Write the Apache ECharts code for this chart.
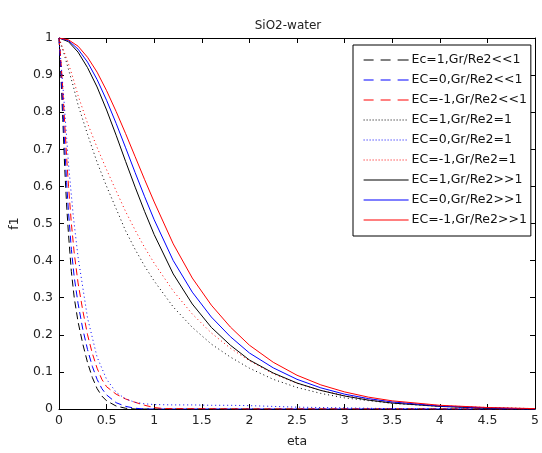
<!DOCTYPE html>
<html>
<head>
<meta charset="utf-8">
<script src="https://cdn.jsdelivr.net/npm/echarts@6/dist/echarts.min.js"></script>
<style>html,body{margin:0;padding:0;background:#fff}#c{width:542px;height:453px}</style>
</head>
<body>
<div id="c"></div>
<script>
var seriesNames = ['Ec=1,Gr/Re2<<1','EC=0,Gr/Re2<<1','EC=-1,Gr/Re2<<1','EC=1,Gr/Re2=1','EC=0,Gr/Re2=1','EC=-1,Gr/Re2=1','EC=1,Gr/Re2>>1','EC=0,Gr/Re2>>1','EC=-1,Gr/Re2>>1'];
var xTicks = [0,0.5,1,1.5,2,2.5,3,3.5,4,4.5,5];
var yTicks = [0,0.1,0.2,0.3,0.4,0.5,0.6,0.7,0.8,0.9,1];

// dashed (Gr/Re2<<1)
var etaDashed   = [0,0.02,0.04,0.06,0.08,0.1,0.13,0.16,0.2,0.25,0.3,0.35,0.4,0.45,0.5,0.6,0.7,0.8,0.9,1.0,1.1,2,3,4,5];
var blackDashed = [1,0.9,0.78,0.65,0.55,0.47,0.37,0.3,0.235,0.175,0.125,0.085,0.055,0.035,0.022,0.008,0.002,0,0,0,0,0,0,0,0];
var blueDashed  = [1,0.92,0.82,0.71,0.61,0.53,0.43,0.355,0.285,0.215,0.16,0.115,0.08,0.055,0.038,0.017,0.007,0.002,0,0,0,0,0,0,0];
var redDashed   = [1,0.94,0.86,0.77,0.68,0.6,0.5,0.42,0.34,0.265,0.2,0.15,0.11,0.08,0.06,0.04,0.027,0.018,0.01,0.004,0.001,0,0,0,0];

// dotted (Gr/Re2=1)
var etaDotted   = [0,0.05,0.1,0.15,0.2,0.3,0.4,0.5,0.6,0.7,0.8,0.9,1.0,1.2,1.4,1.6,1.8,2.0,2.25,2.5,2.75,3.0,3.5,4.0,4.5,5.0];
var blackDotted = [1,0.96,0.915,0.87,0.82,0.74,0.665,0.6,0.54,0.48,0.43,0.385,0.345,0.275,0.22,0.175,0.14,0.11,0.08,0.058,0.042,0.03,0.015,0.007,0.003,0.001];
var blueDotted  = [1,0.84,0.66,0.52,0.41,0.245,0.14,0.08,0.045,0.027,0.018,0.014,0.012,0.011,0.011,0.01,0.01,0.009,0.007,0.005,0.004,0.003,0.001,0,0,0];
var redDotted   = [1,0.965,0.93,0.89,0.845,0.77,0.705,0.645,0.588,0.532,0.482,0.435,0.393,0.318,0.256,0.205,0.164,0.13,0.095,0.069,0.05,0.036,0.018,0.009,0.004,0.001];

// solid (Gr/Re2>>1)
var etaSolid   = [0,0.1,0.2,0.3,0.4,0.5,0.6,0.7,0.8,0.9,1.0,1.2,1.4,1.6,1.8,2.0,2.25,2.5,2.75,3.0,3.25,3.5,4.0,4.5,5.0];
var blackSolid = [1,0.99,0.962,0.92,0.868,0.806,0.738,0.667,0.598,0.532,0.47,0.364,0.283,0.22,0.172,0.132,0.097,0.07,0.05,0.035,0.024,0.016,0.007,0.002,0];
var blueSolid  = [1,0.993,0.97,0.935,0.888,0.832,0.77,0.704,0.637,0.572,0.51,0.4,0.315,0.248,0.195,0.151,0.111,0.08,0.057,0.04,0.028,0.019,0.008,0.003,0];
var redSolid   = [1,0.995,0.978,0.948,0.908,0.858,0.802,0.742,0.68,0.618,0.558,0.445,0.353,0.28,0.221,0.172,0.126,0.091,0.065,0.046,0.032,0.022,0.01,0.004,0.001];

var colors = ['#000000','#0000ff','#ff0000'];
var colorKeys = ['k','b','r'];
var dash = [7,4], dot = [1,3];
var kinds = ['dash','dash','dash','dot','dot','dot','solid','solid','solid'];
var colorIdx = [0,1,2,0,1,2,0,1,2];
var xsList = [etaDashed, etaDashed, etaDashed, etaDotted, etaDotted, etaDotted, etaSolid, etaSolid, etaSolid];
var ysList = [blackDashed, blueDashed, redDashed, blackDotted, blueDotted, redDotted, blackSolid, blueSolid, redSolid];

function pairs(xs, ys){ return xs.map(function(x,i){ return [x, ys[i]]; }); }
var series = seriesNames.map(function(name, i){
  var t = kinds[i] === 'dash' ? dash : (kinds[i] === 'dot' ? dot : 'solid');
  var c = colors[colorIdx[i]];
  return {
    name: name, type: 'line', xAxisIndex: 0, yAxisIndex: 0,
    data: pairs(xsList[i], ysList[i]), symbol: 'none', smooth: false,
    lineStyle: { color: c, width: 1, type: t },
    itemStyle: { color: c }, animation: false
  };
});

var font = 'DejaVu Sans, Liberation Sans, sans-serif';
// rich-text line samples for the legend
function box(w, c){
  var s = { width: w, height: 1, lineHeight: 1, fontSize: 1, verticalAlign: 'middle', align: 'left' };
  if (c) s.backgroundColor = c;
  return s;
}
var rich = {
  n:  { fontSize: 12.5, lineHeight: 14, color: '#111', fontFamily: font, verticalAlign: 'middle', align: 'left' },
  g7: box(7), g2: box(2), sp: box(3)
};
colorKeys.forEach(function(k, ci){
  rich['d10' + k] = box(10, colors[ci]);
  rich['d11' + k] = box(11, colors[ci]);
  rich['o' + k]   = box(1, colors[ci]);
  rich['s' + k]   = box(45, colors[ci]);
});
function sample(i){
  var k = colorKeys[colorIdx[i]];
  if (kinds[i] === 'dash') return '{d10' + k + '| }{g7| }{d10' + k + '| }{g7| }{d11' + k + '| }';
  if (kinds[i] === 'solid') return '{s' + k + '| }';
  var s = '';
  for (var j = 0; j < 15; j++) { s += '{o' + k + '| }{g2| }'; }
  return s;
}

var tickLabel = { color: '#222', fontSize: 12.5, fontFamily: font };
function fmt(v){ return String(Math.round(v*10)/10); }

var chart = echarts.init(document.getElementById('c'), null, { renderer: 'canvas' });
chart.setOption({
  backgroundColor: '#ffffff',
  animation: false,
  title: {
    text: 'SiO2-water', left: 283, top: 15, textAlign: 'center',
    textStyle: { fontSize: 12, fontWeight: 'normal', color: '#222', fontFamily: font }
  },
  grid: { left: 59, right: 4, top: 38, bottom: 36, show: false },
  legend: {
    orient: 'vertical', left: 353, top: 45,
    padding: [8, 4, 9, 0],
    itemWidth: 0, itemHeight: 14, itemGap: 6,
    backgroundColor: '#ffffff', borderColor: '#000', borderWidth: 1,
    itemStyle: { opacity: 0 }, lineStyle: { opacity: 0 },
    formatter: function(name){
      var i = seriesNames.indexOf(name);
      return sample(i) + '{sp| }{n|' + name + '}';
    },
    textStyle: { fontSize: 12.5, lineHeight: 14, color: '#111', fontFamily: font, rich: rich },
    data: seriesNames
  },
  xAxis: [
    { type: 'value', min: 0, max: 5, interval: 0.5, position: 'bottom',
      name: 'eta', nameLocation: 'middle', nameGap: 26,
      nameTextStyle: { fontSize: 12.5, color: '#222', fontFamily: font },
      axisLine: { show: true, onZero: false, lineStyle: { color: '#000', width: 1 } },
      axisTick: { show: true, inside: true, length: 5, lineStyle: { color: '#000' } },
      axisLabel: Object.assign({ margin: 5, formatter: fmt }, tickLabel),
      splitLine: { show: false } },
    { type: 'value', min: 0, max: 5, interval: 0.5, position: 'top',
      axisLine: { show: true, onZero: false, lineStyle: { color: '#000', width: 1 } },
      axisTick: { show: true, inside: true, length: 5, lineStyle: { color: '#000' } },
      axisLabel: { show: false }, splitLine: { show: false } }
  ],
  yAxis: [
    { type: 'value', min: 0, max: 1, interval: 0.1, position: 'left',
      name: 'f1', nameLocation: 'middle', nameGap: 38, nameRotate: 90,
      nameTextStyle: { fontSize: 12.5, color: '#222', fontFamily: font },
      axisLine: { show: true, onZero: false, lineStyle: { color: '#000', width: 1 } },
      axisTick: { show: true, inside: true, length: 5, lineStyle: { color: '#000' } },
      axisLabel: Object.assign({ margin: 6, formatter: fmt }, tickLabel),
      splitLine: { show: false } },
    { type: 'value', min: 0, max: 1, interval: 0.1, position: 'right',
      axisLine: { show: true, onZero: false, lineStyle: { color: '#000', width: 1 } },
      axisTick: { show: true, inside: true, length: 5, lineStyle: { color: '#000' } },
      axisLabel: { show: false }, splitLine: { show: false } }
  ],
  series: series
});
</script>
</body>
</html>
